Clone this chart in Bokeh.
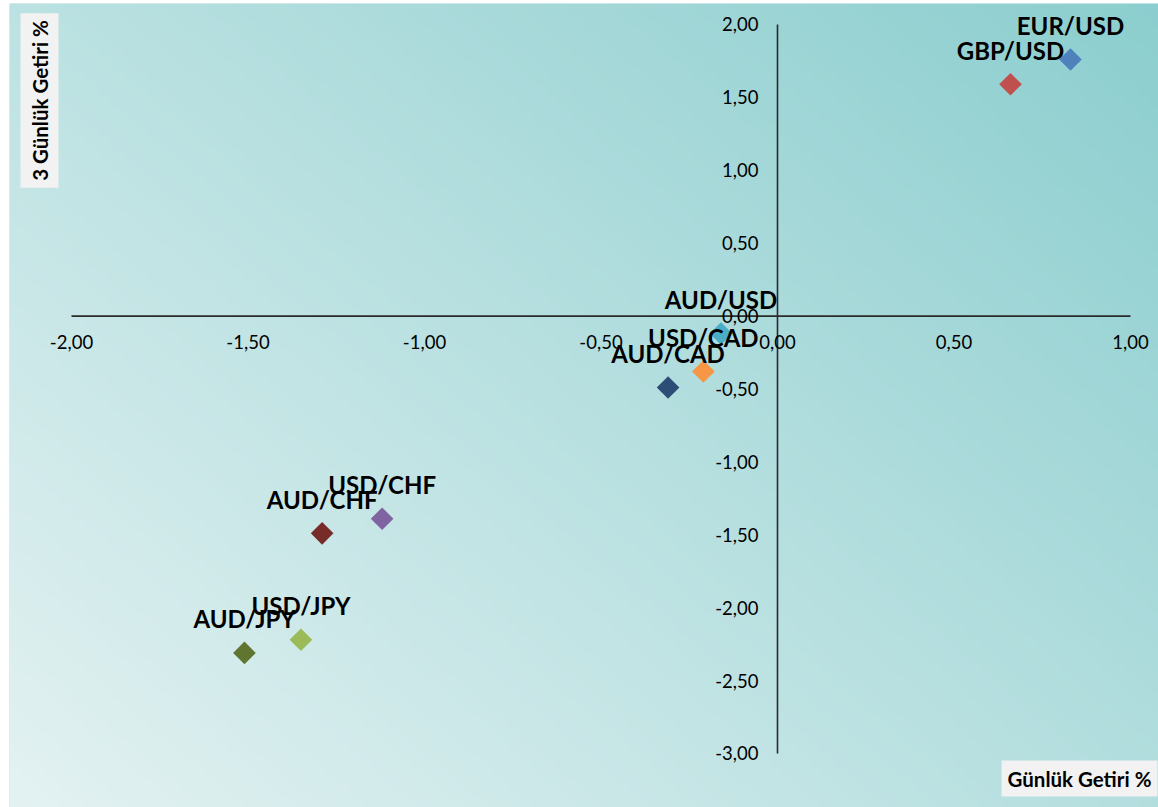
import numpy as np
from bokeh.plotting import figure
from bokeh.models import ColumnDataSource, Label
from bokeh.core.properties import value
from bokeh.embed import file_html
from bokeh.resources import INLINE

# ---- data ----
pairs = ["EUR/USD", "GBP/USD", "AUD/USD", "USD/CAD", "AUD/CAD",
         "USD/CHF", "AUD/CHF", "USD/JPY", "AUD/JPY"]
daily = [0.83, 0.66, -0.16, -0.21, -0.31, -1.12, -1.29, -1.35, -1.51]
three_day = [1.76, 1.59, -0.12, -0.38, -0.49, -1.39, -1.49, -2.22, -2.31]
colors = ["#4F81BD", "#C0504D", "#4BACC6", "#F79646", "#2C4D75",
          "#8064A2", "#772C2A", "#9BBB59", "#5F7530"]
x_ticks = [-2.0, -1.5, -1.0, -0.5, 0.0, 0.5, 1.0]
y_ticks = [2.0, 1.5, 1.0, 0.5, 0.0, -0.5, -1.0, -1.5, -2.0, -2.5, -3.0]
x_title = "Günlük Getiri %"
y_title = "3 Günlük Getiri %"

def fmt(v):
    return f"{v:.2f}".replace(".", ",")

W, H = 1158, 807
BL, BT = 9, 3
xr = (-2.1756, 1.0793)
yr = (-3.3704, 2.1440)

p = figure(width=W, height=H, x_range=xr, y_range=yr,
           x_axis_type=None, y_axis_type=None,
           toolbar_location=None, output_backend="svg",
           min_border=0, min_border_left=BL, min_border_top=BT,
           outline_line_color=None)
p.grid.visible = False
p.background_fill_color = "#b5dede"
p.border_fill_color = "white"

# gradient background (style only)
gw, gh = 200, 140
gx = np.linspace(0, 1, gw)[None, :]
gy = np.linspace(0, 1, gh)[:, None]
t = np.clip((gx * 0.55 + gy * 0.45), 0, 1)
c0 = np.array([228, 242, 242])
c1 = np.array([140, 206, 207])
img = np.empty((gh, gw), dtype=np.uint32)
view = img.view(dtype=np.uint8).reshape((gh, gw, 4))
for k in range(3):
    view[:, :, k] = (c0[k] + (c1[k] - c0[k]) * t).astype(np.uint8)
view[:, :, 3] = 255
p.image_rgba(image=[img], x=xr[0], y=yr[0], dw=xr[1] - xr[0], dh=yr[1] - yr[0])

# axes crossing at zero
p.segment(x0=[x_ticks[0]], x1=[x_ticks[-1]], y0=[0], y1=[0],
          line_color="#2a2a2a", line_width=1.6)
p.segment(x0=[0], x1=[0], y0=[y_ticks[-1]], y1=[y_ticks[0]],
          line_color="#2a2a2a", line_width=1.6)

xs = ColumnDataSource(dict(x=x_ticks, y=[0] * len(x_ticks), t=[fmt(v) for v in x_ticks]))
p.text(x="x", y="y", text="t", source=xs, text_align="center", text_baseline="middle",
       y_offset=26, text_font=value("Lato"), text_font_size="18.5px", text_color="black")
ys = ColumnDataSource(dict(x=[0] * len(y_ticks), y=y_ticks, t=[fmt(v) for v in y_ticks]))
p.text(x="x", y="y", text="t", source=ys, text_align="right", text_baseline="middle",
       x_offset=-19, text_font=value("Lato"), text_font_size="18.5px", text_color="black")

# points
src = ColumnDataSource(dict(x=daily, y=three_day, c=colors, n=pairs))
p.scatter(x="x", y="y", source=src, marker="square", size=16, angle=np.pi / 4,
          fill_color="c", line_color="c", line_width=0)
p.text(x="x", y="y", text="n", source=src, text_align="center", text_baseline="middle",
       y_offset=-34, text_font=value("Lato"), text_font_style="bold",
       text_font_size="24px", text_color="black")

# axis titles in boxes (screen coords from frame bottom-left)
p.add_layout(Label(x=39 - BL, y=H - 100, x_units="screen", y_units="screen", text=y_title,
                   angle=np.pi / 2, text_align="center", text_baseline="middle",
                   text_font="Lato", text_font_style="bold", text_font_size="20.5px",
                   text_color="black",
                   background_fill_color="#f2f2f2", padding=7))
p.add_layout(Label(x=1079 - BL, y=H - 778, x_units="screen", y_units="screen", text=x_title,
                   text_align="center", text_baseline="middle",
                   text_font="Lato", text_font_style="bold", text_font_size="20.5px",
                   text_color="black",
                   background_fill_color="#f2f2f2", padding=6))

open("out.html", "w").write(file_html(p, INLINE))
